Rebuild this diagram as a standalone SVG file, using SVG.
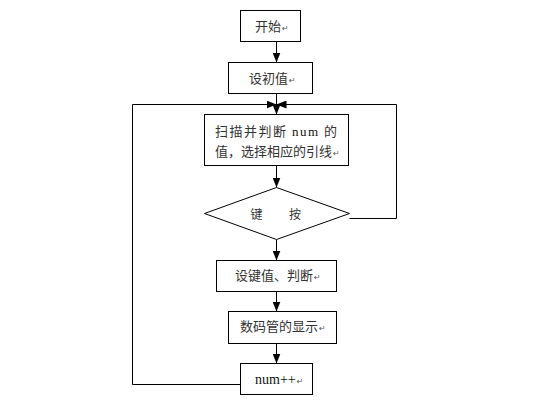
<svg xmlns="http://www.w3.org/2000/svg" width="553" height="406" viewBox="0 0 553 406">
<defs>
<style>
.box{fill:#fff;stroke:#000;stroke-width:1}
.ln{fill:none;stroke:#000;stroke-width:1}
.t{font-family:"Noto Sans CJK SC","Noto Sans CJK JP",sans-serif;font-size:13px;fill:#333}
.s{font-family:"Liberation Serif",serif;font-size:14px;fill:#111}
.p{font-family:"DejaVu Sans",sans-serif;font-size:8px;fill:#555}
</style>
<marker id="ah" markerUnits="userSpaceOnUse" markerWidth="10" markerHeight="8" refX="10" refY="4" orient="auto">
<path d="M0,0 L10,4 L0,8 z" fill="#000"/>
</marker>
</defs>
<rect width="553" height="406" fill="#fff"/>
<g id="connectors">
<line class="ln" x1="276.5" y1="41.5" x2="276.5" y2="62.5" marker-end="url(#ah)"/>
<line class="ln" x1="276.5" y1="93.5" x2="276.5" y2="114.5" marker-end="url(#ah)"/>
<line class="ln" x1="276.5" y1="165.5" x2="276.5" y2="187.5" marker-end="url(#ah)"/>
<line class="ln" x1="276.5" y1="239.5" x2="276.5" y2="260.5" marker-end="url(#ah)"/>
<line class="ln" x1="276.5" y1="291.5" x2="276.5" y2="311.5" marker-end="url(#ah)"/>
<line class="ln" x1="276.5" y1="343.5" x2="276.5" y2="363.5" marker-end="url(#ah)"/>
<polyline class="ln" points="240.5,384.5 132.5,384.5 132.5,104.5 276.5,104.5" marker-end="url(#ah)"/>
<polyline class="ln" points="349.5,218.5 396.5,218.5 396.5,104.5 276.5,104.5" marker-end="url(#ah)"/>
</g>
<g id="start">
<rect class="box" x="240.5" y="10.5" width="60" height="31"/>
<text class="t" x="255" y="31">开始<tspan class="p" dx="1">↵</tspan></text>
</g>
<g id="init">
<rect class="box" x="228.5" y="62.5" width="84" height="31"/>
<text class="t" x="249" y="83">设初值<tspan class="p" dx="1">↵</tspan></text>
</g>
<g id="scan">
<rect class="box" x="204.5" y="114.5" width="144" height="51"/>
<text class="t" x="215" y="136" textLength="122" lengthAdjust="spacing">扫描并判断 <tspan class="s" style="font-size:13px">num</tspan> 的</text>
<text class="t" x="215" y="156">值，选择相应的引线<tspan class="p" dx="1">↵</tspan></text>
</g>
<g id="key">
<polygon class="box" points="276.5,187.5 349.5,213.5 276.5,239.5 204.5,213.5"/>
<text class="t" x="256.5" y="218.5" text-anchor="middle" style="font-size:12px">键</text>
<text class="t" x="295" y="218.5" text-anchor="middle" style="font-size:12px">按</text>
</g>
<g id="setkey">
<rect class="box" x="216.5" y="260.5" width="120" height="31"/>
<text class="t" x="235" y="280">设键值、判断<tspan class="p" dx="1">↵</tspan></text>
</g>
<g id="display">
<rect class="box" x="228.5" y="311.5" width="108" height="32"/>
<text class="t" x="240" y="331">数码管的显示<tspan class="p" dx="1">↵</tspan></text>
</g>
<g id="inc">
<rect class="box" x="240.5" y="363.5" width="72" height="31"/>
<text class="s" x="255" y="384">num++<tspan class="p" dx="1">↵</tspan></text>
</g>
</svg>
